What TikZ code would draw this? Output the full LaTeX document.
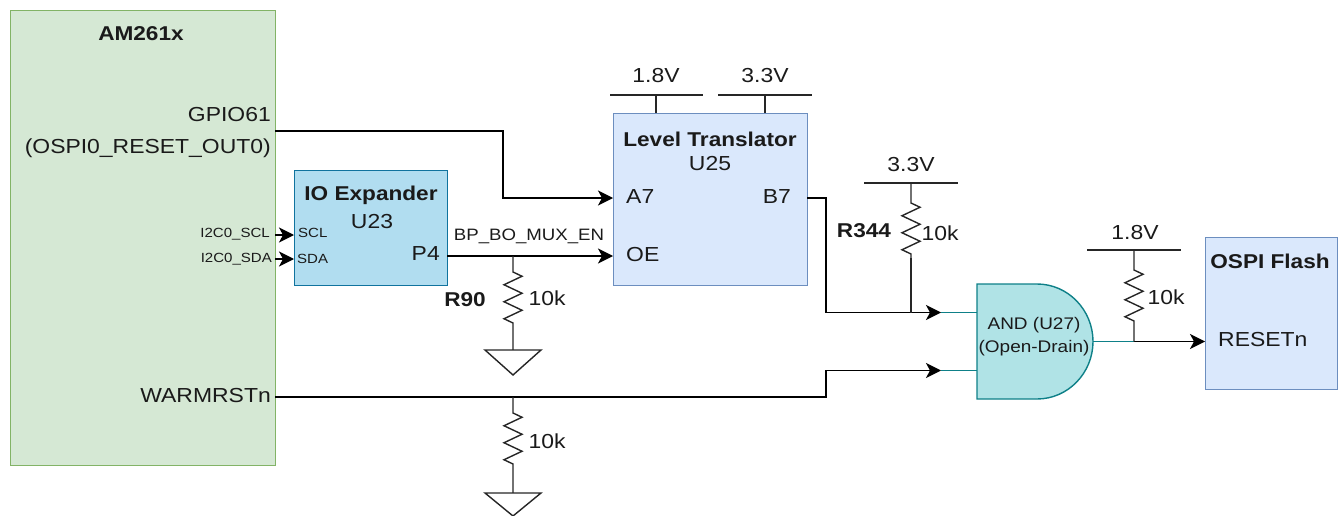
\documentclass[tikz,border=0pt]{standalone}
\usepackage{fontspec}
\setmainfont[FakeStretch=1.13]{Liberation Sans}
\usetikzlibrary{arrows.meta,decorations.pathmorphing}
\newcommand{\fs}[1]{\fontsize{#1}{#1}\selectfont}
\tikzset{
  x=1pt,y=-1pt,
  box/.style={draw,line width=1.3pt,inner sep=0pt,anchor=north west},
  txt/.style={inner sep=0pt,text=ink,font=\fs{20.3}},
  boldtxt/.style={txt,font=\fs{20}\bfseries},
  small/.style={txt,font=\fs{13.3}},
  wire/.style={draw=black,line width=1.7pt},
  thin wire/.style={draw=black!85,line width=1.4pt},
  arrowed/.style={wire,-{Stealth[length=15pt,width=15pt,inset=4pt]}},
  resistor/.style 2 args={thin wire,decorate,decoration={zigzag,segment length=17pt,amplitude=9pt,pre length=#1,post length=#2}},
  gnd/.style={thin wire,fill=white},
  rail/.style={thin wire},
  tealwire/.style={draw=tealline,line width=1.4pt},
}
\definecolor{soc}{HTML}{D5E8D4}
\definecolor{socline}{HTML}{82B366}
\definecolor{ioe}{HTML}{B1DDF0}
\definecolor{ioeline}{HTML}{10739E}
\definecolor{blu}{HTML}{DAE8FC}
\definecolor{bluline}{HTML}{6C8EBF}
\definecolor{gate}{HTML}{B0E3E6}
\definecolor{tealline}{HTML}{0E8088}
\definecolor{ink}{HTML}{1A1A1A}
\begin{document}
\begin{tikzpicture}
\useasboundingbox (0,0) rectangle (1338,516);
% boxes
\node[box,draw=socline,fill=soc,minimum width=265pt,minimum height=455pt] (soc) at (10,10) {};
\node[box,draw=ioeline,fill=ioe,minimum width=153pt,minimum height=115pt] (ioexp) at (294,170) {};
\node[box,draw=bluline,fill=blu,minimum width=194pt,minimum height=172pt] (lt) at (613,113) {};
\node[box,draw=bluline,fill=blu,minimum width=132pt,minimum height=152pt] (flash) at (1205,237) {};
% AND gate
\coordinate (gateTL) at (977,284);
\coordinate (gateBL) at (977,399);
\coordinate (gateOut) at (1093,341.5);
\draw[draw=tealline,fill=gate,line width=1.4pt] (gateTL) -- (1037,284) .. controls (1068,284) and (1093,310) .. (gateOut) .. controls (1093,373) and (1068,399) .. (1037,399) -- (gateBL) -- cycle;
% pins
\coordinate (gpio) at (275,131);
\coordinate (warm) at (275,397);
\coordinate (sclS) at (275,235);
\coordinate (sdaS) at (275,259);
\coordinate (sclD) at (294,235);
\coordinate (sdaD) at (294,259);
\coordinate (p4) at (447,256);
\coordinate (a7) at (613,198);
\coordinate (oe) at (613,256);
\coordinate (b7) at (807,198);
\coordinate (in1) at (941,312.5);
\coordinate (in2) at (941,370.5);
\coordinate (gin1) at (977,312.5);
\coordinate (gin2) at (977,370.5);
\coordinate (resetn) at (1205,341.5);
\coordinate (j1) at (911,312.5);
\coordinate (j2) at (1134,341.5);
\coordinate (j3) at (513,256);
\coordinate (j4) at (513,397);
\coordinate (r344end) at (911,258);
% rails
\coordinate (r1a) at (610,95); \coordinate (r1b) at (703,95); \coordinate (r1c) at (656,95); \coordinate (r1d) at (656,113);
\coordinate (r2a) at (718,95); \coordinate (r2b) at (812,95); \coordinate (r2c) at (765,95); \coordinate (r2d) at (765,113);
\coordinate (r3a) at (864,183); \coordinate (r3b) at (958,183); \coordinate (r3c) at (911,183);
\coordinate (r4a) at (1087,250); \coordinate (r4b) at (1181,250); \coordinate (r4c) at (1134,250);
\draw[rail] (r1a) -- (r1b) (r1c) -- (r1d);
\draw[rail] (r2a) -- (r2b) (r2c) -- (r2d);
\draw[rail] (r3a) -- (r3b);
\draw[rail] (r4a) -- (r4b);
% wires
\draw[arrowed] (gpio) -- (503,131) -- (503,198) -- (a7);
\draw[arrowed] (p4) -- (oe);
\draw[arrowed] (b7) -- (826,198) -- (826,312.5) -- (in1);
\draw[arrowed] (warm) -- (826,397) -- (826,370.5) -- (in2);
\draw[arrowed] (j2) -- (resetn);
\draw[arrowed] (sclS) -- (sclD);
\draw[arrowed] (sdaS) -- (sdaD);
\draw[tealwire] (in1) -- (gin1);
\draw[tealwire] (in2) -- (gin2);
\draw[tealwire] (gateOut) -- (j2);
% resistors
\coordinate (g1) at (513,350);
\coordinate (g2) at (513,493);
\draw[resistor={16pt}{27pt}] (j3) -- (g1);
\draw[resistor={16pt}{27pt}] (j4) -- (g2);
\draw[resistor={20pt}{0.5pt}] (r3c) -- (r344end);
\draw[thin wire] (r344end) -- (j1);
\draw[resistor={20pt}{17pt}] (r4c) -- (j2);
\draw[gnd] (g1) ++(-28,0) -- ++(56,0) -- ++(-28,25) -- cycle;
\draw[gnd] (g2) ++(-28,0) -- ++(56,0) -- ++(-28,23) -- cycle;
% labels
\node[boldtxt] (t1) at (141,34) {AM261x};
\node[txt,anchor=east] (t2) at (271,115) {GPIO61};
\node[txt,anchor=east] (t3) at (271,148) {(OSPI0\_RESET\_OUT0)};
\node[txt,anchor=east] (t4) at (271,396) {WARMRSTn};
\node[small,anchor=east] (t5) at (270,234) {I2C0\_SCL};
\node[small,anchor=east] (t6) at (272,259) {I2C0\_SDA};
\node[small,anchor=west] (t7) at (298,233) {SCL};
\node[small,anchor=west] (t8) at (297,259) {SDA};
\node[boldtxt] (t9) at (371,195) {IO Expander};
\node[txt] (t10) at (372,222) {U23};
\node[txt,anchor=east] (t11) at (440,254) {P4};
\node[txt,font=\fs{16.5}] (t12) at (529,236) {BP\_BO\_MUX\_EN};
\node[boldtxt] (t13) at (710,139) {Level Translator};
\node[txt] (t14) at (710,164) {U25};
\node[txt,anchor=west] (t15) at (626,197) {A7};
\node[txt,anchor=west] (t16) at (626,255) {OE};
\node[txt,anchor=east] (t17) at (791,197) {B7};
\node[txt] (t18) at (656,76) {1.8V};
\node[txt] (t19) at (765,76) {3.3V};
\node[txt] (t20) at (911,165) {3.3V};
\node[txt] (t21) at (1135,233) {1.8V};
\node[boldtxt] (t22) at (465,300) {R90};
\node[txt] (t23) at (547,298) {10k};
\node[boldtxt] (t24) at (864,231) {R344};
\node[txt] (t25) at (940,233) {10k};
\node[txt] (t26) at (1166,297) {10k};
\node[txt] (t27) at (547,441) {10k};
\node[txt,font=\fs{16.8}] (t28) at (1034,325) {AND (U27)};
\node[txt,font=\fs{16.8}] (t29) at (1034,348) {(Open-Drain)};
\node[boldtxt] (t30) at (1270,261) {OSPI Flash};
\node[txt,anchor=west] (t31) at (1218,340) {RESETn};
\end{tikzpicture}
\end{document}
